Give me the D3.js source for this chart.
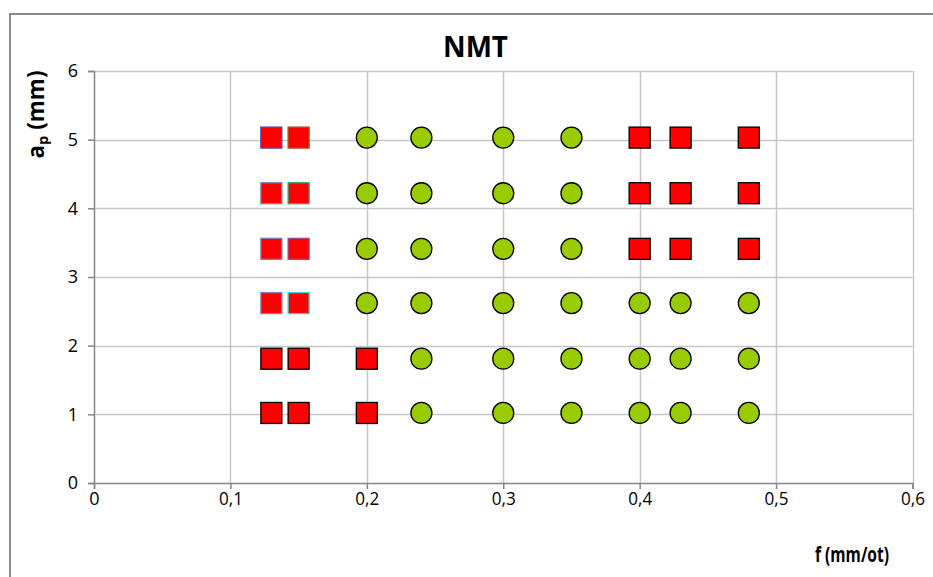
<!DOCTYPE html>
<html><head><meta charset="utf-8">
<script src="https://cdn.jsdelivr.net/npm/d3@7"></script>
<style>body{margin:0;background:#fff}svg{display:block}text{font-family:"Open Sans","Liberation Sans",sans-serif}</style>
</head><body>
<svg id="c" width="933" height="577"></svg>
<script>
// Data
const fValues = [0.13, 0.15, 0.2, 0.24, 0.3, 0.35, 0.4, 0.43, 0.48];
const apValues = [1.02, 1.81, 2.62, 3.41, 4.22, 5.03];
// marker type per row (index of apValues) then column (index of fValues): "s" = red square, "c" = green circle
const markerGrid = [
  ["s","s","s","c","c","c","c","c","c"],
  ["s","s","s","c","c","c","c","c","c"],
  ["s","s","c","c","c","c","c","c","c"],
  ["s","s","c","c","c","c","s","s","s"],
  ["s","s","c","c","c","c","s","s","s"],
  ["s","s","c","c","c","c","s","s","s"]
];
// marker border colours per row/column (null = black)
const borderGrid = [
  [null,null,null,null,null,null,null,null,null],
  [null,null,null,null,null,null,null,null,null],
  ["#8080b8","#40d0d0",null,null,null,null,null,null,null],
  ["#8080b8","#a04890",null,null,null,null,null,null,null],
  ["#8080b8","#40a070",null,null,null,null,null,null,null],
  ["#4848c0","#a85028",null,null,null,null,null,null,null]
];
const xTicks = [0, 0.1, 0.2, 0.3, 0.4, 0.5, 0.6];
const yTicks = [0, 1, 2, 3, 4, 5, 6];
const title = "NMT";
const xTitle = "f (mm/ot)";

const svg = d3.select("#c");
// chart border
svg.append("rect").attr("x",10).attr("y",14).attr("width",940).attr("height",600)
  .attr("fill","none").attr("stroke","#8c8c8c").attr("stroke-width",2);

const x = d3.scaleLinear().domain([0,0.6]).range([94,912.5]);
const y = d3.scaleLinear().domain([0,6]).range([483,71]);

// grid
svg.append("g").selectAll("line").data(yTicks.slice(1)).join("line")
  .attr("x1",94).attr("x2",912.5).attr("y1",d=>Math.round(y(d))+0.5).attr("y2",d=>Math.round(y(d))+0.5)
  .attr("stroke","#c6c6c6").attr("stroke-width",1.5);
svg.append("g").selectAll("line").data(xTicks.slice(1)).join("line")
  .attr("y1",71).attr("y2",483).attr("x1",d=>Math.round(x(d))+0.5).attr("x2",d=>Math.round(x(d))+0.5)
  .attr("stroke","#c6c6c6").attr("stroke-width",1.5);

// axes
const fmt = d => d3.format(".1~f")(d).replace(".", ",");
const gx = svg.append("g").attr("transform","translate(0,483)")
  .call(d3.axisBottom(x).tickValues(xTicks).tickFormat(d=> d===0?"0":fmt(d)).tickSize(6).tickPadding(3));
const gy = svg.append("g").attr("transform","translate(94,0)")
  .call(d3.axisLeft(y).tickValues(yTicks).tickFormat(d3.format("d")).tickSize(6).tickPadding(10));
[gx,gy].forEach(g=>{
  g.attr("font-size",18).attr("font-family","'Open Sans',sans-serif");
  g.select(".domain").attr("stroke","#868686").attr("stroke-width",1.5);
  g.selectAll(".tick line").attr("stroke","#868686").attr("stroke-width",1.5);
  g.selectAll(".tick text").attr("fill","#000");
});
gx.selectAll(".tick text").attr("textLength", d => d===0 ? null : 24).attr("lengthAdjust","spacingAndGlyphs");

// points
const pts = [];
apValues.forEach((a,i)=>fValues.forEach((f,j)=>pts.push({f,a,t:markerGrid[i][j],b:borderGrid[i][j]||"#000"})));
const S = 21;
svg.append("g").selectAll("rect").data(pts.filter(p=>p.t==="s")).join("rect")
  .attr("x",d=>x(d.f)-S/2).attr("y",d=>y(d.a)-S/2).attr("width",S).attr("height",S)
  .attr("fill","#ff0000").attr("stroke",d=>d.b).attr("stroke-width",1.3);
svg.append("g").selectAll("circle").data(pts.filter(p=>p.t==="c")).join("circle")
  .attr("cx",d=>x(d.f)).attr("cy",d=>y(d.a)).attr("r",10.5)
  .attr("fill","#99cc00").attr("stroke","#000").attr("stroke-width",1.3);

// titles
svg.append("text").attr("x",475.5).attr("y",57).attr("text-anchor","middle")
  .attr("textLength",65).attr("lengthAdjust","spacingAndGlyphs")
  .style("font-size","28px").style("font-weight","bold").text(title);
svg.append("text").attr("x",889).attr("y",562).attr("text-anchor","end")
  .attr("textLength",74).attr("lengthAdjust","spacingAndGlyphs")
  .style("font-size","22px").style("font-weight","bold").text(xTitle);
const yl = svg.append("text").attr("transform","translate(44,114.5) rotate(-90)").attr("text-anchor","middle")
  .attr("textLength",88).attr("lengthAdjust","spacingAndGlyphs")
  .style("font-size","23px").style("font-weight","bold");
yl.append("tspan").text("a");
yl.append("tspan").attr("dy",4).style("font-size","15px").text("p");
yl.append("tspan").attr("dy",-4).text(" (mm)");
</script>
</body></html>
